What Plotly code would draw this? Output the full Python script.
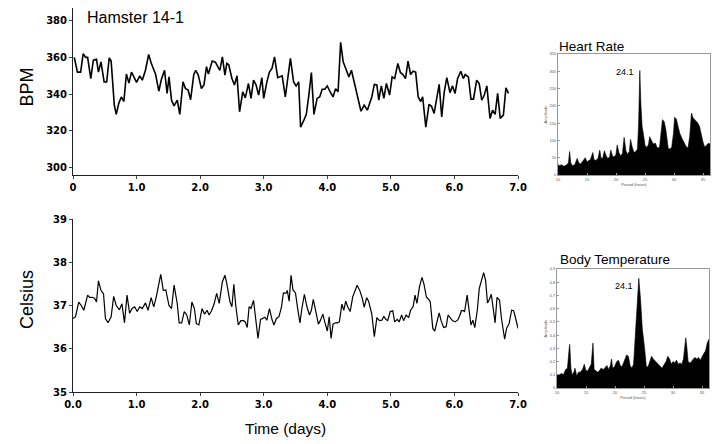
import plotly.graph_objects as go

# heart rate, hourly-ish samples (days, BPM)
bpm_days = [0.02, 0.07, 0.12, 0.16, 0.20, 0.23, 0.28, 0.32, 0.37, 0.40, 0.44, 0.49, 0.53, 0.57, 0.60,
            0.65, 0.68, 0.72, 0.76, 0.80, 0.84, 0.88, 0.92, 0.97, 1.00, 1.05, 1.09, 1.14, 1.19, 1.23,
            1.27, 1.30, 1.35, 1.39, 1.44, 1.48, 1.51, 1.55, 1.59, 1.64, 1.68, 1.73, 1.77, 1.81, 1.85,
            1.90, 1.93, 1.97, 2.02, 2.06, 2.10, 2.13, 2.19, 2.24, 2.31, 2.35, 2.39, 2.42, 2.45, 2.50,
            2.54, 2.58, 2.62, 2.67, 2.71, 2.76, 2.80, 2.84, 2.88, 2.92, 2.97, 3.00, 3.05, 3.09, 3.13,
            3.17, 3.22, 3.26, 3.29, 3.34, 3.38, 3.42, 3.47, 3.51, 3.55, 3.58, 3.63, 3.67, 3.71, 3.75,
            3.79, 3.84, 3.88, 3.92, 3.96, 4.00, 4.04, 4.09, 4.13, 4.17, 4.21, 4.25, 4.29, 4.34, 4.38,
            4.41, 4.47, 4.53, 4.58, 4.63, 4.70, 4.74, 4.78, 4.81, 4.85, 4.89, 4.93, 4.98, 5.02, 5.06,
            5.11, 5.15, 5.19, 5.23, 5.27, 5.31, 5.35, 5.39, 5.43, 5.47, 5.50, 5.55, 5.60, 5.64, 5.68,
            5.72, 5.76, 5.80, 5.84, 5.88, 5.93, 5.97, 6.01, 6.05, 6.10, 6.14, 6.17, 6.22, 6.26, 6.30,
            6.35, 6.39, 6.43, 6.47, 6.51, 6.56, 6.60, 6.64, 6.68, 6.72, 6.77, 6.81, 6.85]
bpm = [360, 352, 352, 362, 360, 360, 348.5, 358.5, 359, 352, 357.6, 346.7, 346.7, 359.8, 358,
       334, 329, 335, 338.5, 336, 351, 346, 352, 348, 346.4, 350, 347.6, 353, 361.6, 357,
       353, 350.7, 341.6, 348, 353, 340.4, 349.4, 336.7, 333.6, 336.7, 329, 346.7, 343, 342.4, 337,
       350.7, 353, 350.4, 343, 345, 355, 351, 358, 357.4, 353, 360.3, 350.4, 356.7, 356, 348.5,
       345, 350, 330.4, 341.3, 338, 345.8, 337.7, 347.6, 345, 339.5, 349, 337.7, 346.7, 352, 354,
       360.3, 349, 349.4, 350, 338.5, 348.5, 359.5, 346.7, 344.5, 346.7, 322, 325.7, 329, 339.5, 351.8,
       329, 337.7, 338.5, 342.7, 342.7, 344.5, 341.6, 338.5, 343, 341.3, 368.2, 357.6, 354, 349.4, 353,
       348.5, 340.4, 330.7, 334, 331.3, 338.5, 345.3, 345, 336.7, 344.5, 337.7, 345.8, 339.5, 349.4, 348.5,
       356.7, 351.8, 350.7, 348.5, 358, 350.7, 352.5, 352, 338.5, 336, 338.5, 322, 334.5, 333.4, 329.5,
       338.5, 345.3, 327.6, 341.3, 349, 340.8, 344.5, 340.4, 348.5, 352.5, 348.5, 350.7, 349.4, 337.3, 337.3,
       347.6, 345.8, 336.7, 339.5, 344.5, 326.8, 331.3, 329, 340.4, 326.8, 328.6, 343.4, 340.4]

# body temperature (days, Celsius)
temp_days = [0.00, 0.04, 0.09, 0.13, 0.17, 0.23, 0.26, 0.30, 0.34, 0.37, 0.40, 0.44, 0.48, 0.51, 0.55,
             0.60, 0.64, 0.68, 0.73, 0.77, 0.81, 0.85, 0.89, 0.93, 0.97, 1.01, 1.05, 1.09, 1.14, 1.18,
             1.23, 1.27, 1.31, 1.35, 1.38, 1.42, 1.46, 1.51, 1.55, 1.59, 1.64, 1.67, 1.71, 1.75, 1.79,
             1.83, 1.87, 1.91, 1.94, 1.98, 2.03, 2.07, 2.11, 2.14, 2.18, 2.22, 2.26, 2.30, 2.35, 2.39,
             2.42, 2.47, 2.50, 2.53, 2.56, 2.60, 2.64, 2.68, 2.71, 2.74, 2.77, 2.80, 2.84, 2.87, 2.91,
             2.95, 2.99, 3.02, 3.05, 3.09, 3.13, 3.16, 3.20, 3.24, 3.28, 3.31, 3.35, 3.37, 3.40, 3.43,
             3.46, 3.50, 3.53, 3.57, 3.60, 3.64, 3.68, 3.72, 3.75, 3.78, 3.82, 3.86, 3.89, 3.93, 3.96,
             4.00, 4.03, 4.06, 4.09, 4.13, 4.16, 4.19, 4.23, 4.26, 4.29, 4.32, 4.36, 4.40, 4.47, 4.51,
             4.55, 4.58, 4.62, 4.65, 4.70, 4.74, 4.78, 4.82, 4.86, 4.89, 4.92, 4.95, 4.99, 5.03, 5.06,
             5.10, 5.13, 5.17, 5.20, 5.24, 5.28, 5.31, 5.35, 5.38, 5.41, 5.45, 5.49, 5.52, 5.56, 5.59,
             5.62, 5.66, 5.69, 5.73, 5.76, 5.79, 5.83, 5.87, 5.90, 5.94, 5.97, 6.01, 6.05, 6.08, 6.11,
             6.14, 6.16, 6.20, 6.24, 6.26, 6.29, 6.32, 6.36, 6.39, 6.46, 6.49, 6.52, 6.55, 6.58, 6.61,
             6.64, 6.67, 6.71, 6.74, 6.79, 6.82, 6.86, 6.90, 6.93, 6.95, 7.00]
temp_c = [36.70, 36.74, 37.08, 37.00, 36.89, 37.24, 37.19, 37.19, 37.17, 37.08, 37.57, 37.35, 37.27, 36.70, 36.60,
          36.74, 37.21, 37.00, 36.90, 37.04, 36.60, 37.24, 36.82, 36.93, 36.97, 36.86, 36.97, 36.93, 37.06, 36.89,
          37.18, 36.97, 37.20, 37.55, 37.72, 37.35, 37.36, 37.00, 36.93, 37.47, 37.04, 36.60, 36.60, 36.86, 36.78,
          36.55, 37.08, 36.93, 36.58, 36.55, 36.93, 36.80, 36.89, 36.78, 36.88, 37.04, 37.28, 37.05, 37.55, 37.70,
          37.50, 37.08, 36.97, 37.49, 37.00, 36.55, 36.65, 36.65, 36.62, 36.49, 36.97, 36.93, 37.12, 36.74, 36.24,
          36.68, 36.70, 36.73, 36.66, 36.93, 36.68, 36.55, 36.70, 36.74, 36.97, 37.29, 37.28, 37.35, 37.10, 37.70,
          37.36, 37.29, 36.97, 36.60, 36.93, 37.26, 36.97, 36.78, 36.89, 37.14, 36.86, 36.57, 36.65, 36.80, 36.62,
          36.41, 36.74, 36.24, 36.57, 36.60, 36.60, 36.62, 37.03, 36.89, 37.10, 36.97, 36.86, 37.20, 37.47, 37.35,
          37.17, 36.96, 37.18, 37.10, 36.80, 36.28, 36.72, 36.65, 36.66, 36.75, 36.68, 36.65, 36.86, 36.88, 36.62,
          36.68, 36.62, 36.78, 36.65, 36.78, 36.72, 36.89, 36.97, 37.24, 37.05, 37.43, 37.65, 37.50, 37.19, 37.15,
          37.08, 36.47, 36.41, 36.62, 36.83, 36.65, 36.49, 36.51, 36.78, 36.70, 36.65, 36.62, 36.66, 36.75, 36.88,
          36.88, 36.86, 37.24, 36.74, 36.55, 36.66, 36.49, 36.89, 37.39, 37.76, 37.58, 37.06, 37.14, 37.26, 36.86,
          36.60, 37.19, 37.12, 36.70, 36.22, 36.47, 36.58, 36.89, 36.88, 36.78, 36.47]

# periodograms (period in hours, amplitude)
hr_period = [10.0, 10.3, 10.6, 11.0, 11.4, 11.8, 12.0, 12.2, 12.5, 12.9, 13.3, 13.6, 13.9, 14.2, 14.5,
             14.7, 15.0, 15.3, 15.6, 16.0, 16.2, 16.5, 16.9, 17.2, 17.4, 17.7, 18.0, 18.3, 18.6, 18.9,
             19.1, 19.4, 19.7, 20.0, 20.2, 20.5, 20.8, 21.1, 21.4, 21.7, 22.0, 22.3, 22.5, 22.8, 23.1,
             23.4, 23.7, 23.9, 24.1, 24.3, 24.5, 24.8, 25.0, 25.3, 25.6, 25.8, 26.1, 26.4, 26.8, 27.1,
             27.5, 27.8, 28.0, 28.3, 28.6, 29.0, 29.3, 29.6, 29.9, 30.1, 30.4, 30.7, 31.0, 31.4, 31.8,
             32.1, 32.4, 32.7, 33.0, 33.3, 33.7, 34.1, 34.4, 34.7, 35.0, 35.3, 35.6, 35.9, 36.2]
hr_amp = [30, 27, 30, 25, 28, 35, 68, 35, 27, 30, 48, 35, 32, 40, 48,
          50, 38, 42, 45, 65, 45, 42, 48, 72, 50, 48, 70, 55, 48, 52,
          72, 55, 52, 60, 87, 65, 55, 62, 109, 70, 60, 68, 103, 80, 65,
          68, 75, 150, 302, 200, 140, 110, 85, 80, 88, 111, 100, 90, 92, 78,
          80, 120, 160, 155, 130, 77, 75, 80, 120, 167, 162, 140, 120, 105, 90,
          82, 78, 110, 179, 165, 158, 150, 140, 115, 95, 80, 87, 92, 90]

bt_period = [10.0, 10.4, 10.8, 11.1, 11.5, 11.8, 12.1, 12.2, 12.4, 12.6, 12.9, 13.1, 13.4, 13.7, 14.0,
             14.4, 14.7, 15.0, 15.3, 15.6, 15.9, 16.2, 16.4, 16.7, 17.0, 17.3, 17.6, 18.0, 18.3, 18.6,
             18.9, 19.2, 19.4, 19.6, 19.9, 20.3, 20.6, 20.9, 21.2, 21.5, 21.8, 22.0, 22.3, 22.6, 22.9,
             23.2, 23.5, 23.8, 24.1, 24.4, 24.7, 25.1, 25.4, 25.7, 26.0, 26.3, 26.6, 27.0, 27.4, 27.8,
             28.1, 28.5, 28.8, 29.1, 29.4, 29.7, 30.0, 30.3, 30.6, 30.9, 31.2, 31.5, 31.8, 32.0, 32.2,
             32.4, 32.6, 32.9, 33.2, 33.5, 33.8, 34.1, 34.4, 34.7, 35.0, 35.3, 35.6, 35.9, 36.2]
bt_amp = [0.10, 0.10, 0.11, 0.10, 0.14, 0.15, 0.30, 0.33, 0.15, 0.10, 0.12, 0.15, 0.09, 0.12, 0.12,
          0.14, 0.18, 0.13, 0.13, 0.15, 0.18, 0.34, 0.14, 0.13, 0.12, 0.13, 0.15, 0.14, 0.16, 0.17,
          0.14, 0.17, 0.22, 0.15, 0.16, 0.20, 0.21, 0.17, 0.16, 0.19, 0.23, 0.25, 0.24, 0.17, 0.15,
          0.18, 0.40, 0.65, 0.83, 0.67, 0.45, 0.30, 0.16, 0.16, 0.20, 0.24, 0.22, 0.20, 0.18, 0.16,
          0.15, 0.18, 0.20, 0.24, 0.22, 0.18, 0.20, 0.19, 0.21, 0.18, 0.19, 0.18, 0.22, 0.30, 0.38,
          0.30, 0.20, 0.19, 0.20, 0.22, 0.23, 0.22, 0.23, 0.21, 0.24, 0.26, 0.28, 0.34, 0.37]

assert len(bpm_days) == len(bpm)
assert len(temp_days) == len(temp_c)
assert len(hr_period) == len(hr_amp)
assert len(bt_period) == len(bt_amp)

day_ticks = [0, 1, 2, 3, 4, 5, 6, 7]
W, H = 720, 444
OFF = 8  # page margin around the plot div


def px(x):
    return (x - OFF) / W


def py(y):
    return 1 - (y - OFF) / H


fig = go.Figure()
fig.add_trace(go.Scatter(x=bpm_days, y=bpm, mode="lines", line=dict(color="black", width=1.6),
                         xaxis="x", yaxis="y"))
fig.add_trace(go.Scatter(x=temp_days, y=temp_c, mode="lines", line=dict(color="black", width=1.2),
                         xaxis="x2", yaxis="y2"))
fig.add_trace(go.Scatter(x=hr_period, y=hr_amp, mode="lines", fill="tozeroy", fillcolor="black",
                         line=dict(color="black", width=0.6), xaxis="x3", yaxis="y3"))
fig.add_trace(go.Scatter(x=bt_period, y=bt_amp, mode="lines", fill="tozeroy", fillcolor="black",
                         line=dict(color="black", width=0.6), xaxis="x4", yaxis="y4"))

main_ax = dict(showline=True, linecolor="#222", linewidth=1, ticks="outside", ticklen=3,
               tickcolor="#444", showgrid=False, zeroline=False, automargin=False,
               tickfont=dict(family="DejaVu Sans", size=10, color="black", weight="bold"))
small_ax = dict(showline=True, mirror=True, linecolor="#999", linewidth=0.8, ticks="inside",
                ticklen=2, tickcolor="#999", showgrid=False, zeroline=False, automargin=False,
                tickfont=dict(family="Liberation Sans", size=4, color="#555"))

fig.update_layout(
    width=W, height=H, margin=dict(l=0, r=0, t=0, b=0),
    paper_bgcolor="white", plot_bgcolor="white", showlegend=False,
    font=dict(family="Liberation Sans", color="black"),
    xaxis=dict(main_ax, domain=[px(73), px(518)], range=[0, 7], anchor="y",
               tickvals=day_ticks, ticktext=["0"] + [f"{d}.0" for d in day_ticks[1:]]),
    yaxis=dict(main_ax, domain=[py(175), py(8)], range=[296, 386.9], anchor="x",
               tickvals=[300, 320, 340, 360, 380]),
    xaxis2=dict(main_ax, domain=[px(73), px(518)], range=[0, 7], anchor="y2",
                tickvals=day_ticks, ticktext=[f"{d}.0" for d in day_ticks]),
    yaxis2=dict(main_ax, domain=[py(392), py(219)], range=[35, 39], anchor="x2",
                tickvals=[35, 36, 37, 38, 39]),
    xaxis3=dict(small_ax, domain=[px(558), px(710)], range=[10, 36.2], anchor="y3",
                tickvals=[10, 15, 20, 25, 30, 35],
                title=dict(text="Period (hours)", font=dict(size=4, color="#555"), standoff=2)),
    yaxis3=dict(small_ax, domain=[py(175), py(54)], range=[0, 350], anchor="x3", dtick=50,
                title=dict(text="Amplitude", font=dict(size=4, color="#555"), standoff=2)),
    xaxis4=dict(small_ax, domain=[px(557), px(709)], range=[10, 36.2], anchor="y4",
                tickvals=[10, 15, 20, 25, 30, 35],
                title=dict(text="Period (hours)", font=dict(size=4, color="#555"), standoff=2)),
    yaxis4=dict(small_ax, domain=[py(388), py(269)], range=[0, 0.9], anchor="x4", dtick=0.1,
                title=dict(text="Amplitude", font=dict(size=4, color="#555"), standoff=2)),
)

notes = [
    dict(text="Hamster 14-1", x=px(86), y=py(8), xanchor="left", yanchor="top",
         font=dict(size=16), borderpad=0),
    dict(text="BPM", x=px(14.5), y=py(87), textangle=-90, font=dict(size=18)),
    dict(text="Celsius", x=px(15), y=py(300), textangle=-90, font=dict(size=18)),
    dict(text="Time (days)", x=px(285), y=py(428), font=dict(size=15.5)),
    dict(text="Heart Rate", x=px(557), y=py(46), xanchor="left", font=dict(size=13.5)),
    dict(text="Body Temperature", x=px(558), y=py(259), xanchor="left", font=dict(size=13.5)),
]
for n in notes:
    n.setdefault("yanchor", "middle")
    fig.add_annotation(xref="paper", yref="paper", showarrow=False, **n)

fig.add_annotation(xref="x3", yref="y3", x=21.5, y=298, text="24.1", showarrow=False,
                   font=dict(size=9))
fig.add_annotation(xref="x4", yref="y4", x=21.5, y=0.77, text="24.1", showarrow=False,
                   font=dict(size=9))

fig.write_html("out.html")
